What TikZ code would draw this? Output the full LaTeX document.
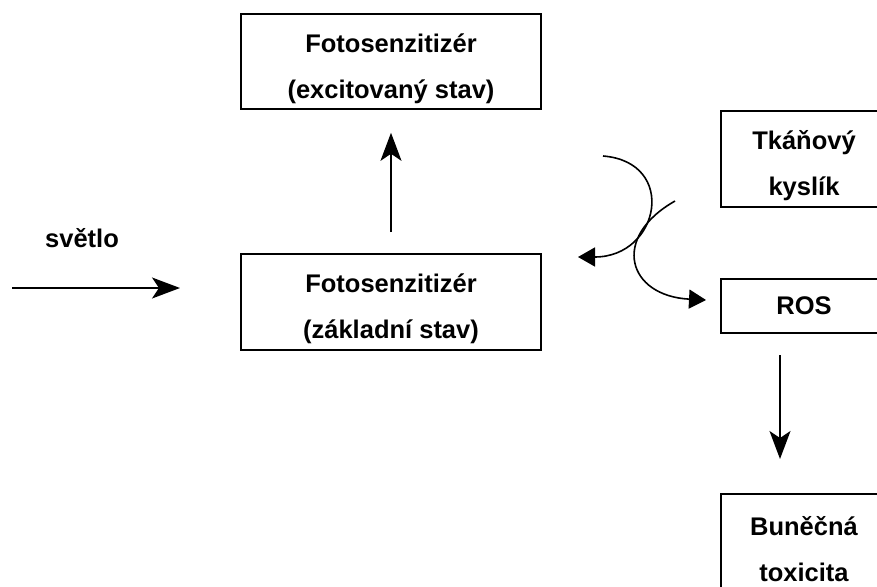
\documentclass[tikz,border=0pt]{standalone}
\usepackage{fontspec}
\setmainfont{Liberation Sans}
\usetikzlibrary{arrows.meta}
\newcommand{\dn}{\rule{0pt}{33pt}}
\begin{document}
\begin{tikzpicture}[x=1pt,y=-1pt,
  box/.style={draw,line width=1.6pt,rectangle,inner sep=0pt,align=center,
    font=\fontsize{25.5}{46}\selectfont\bfseries},
  lbl/.style={font=\fontsize{25.5}{30}\selectfont\bfseries,inner sep=0pt},
  arr/.style={line width=1.6pt,-{Stealth[length=28pt,width=21pt,inset=7pt]}},
  carr/.style={line width=1.6pt,-{Triangle[length=17pt,width=19pt]}}]
\clip (0,0) rectangle (877,586);
\fill[white] (0,0) rectangle (877,586);
% boxes
\node[box,minimum width=300pt,minimum height=95pt] (exc) at (391,61.5) {\dn Fotosenzitizér\\(excitovaný stav)};
\node[box,minimum width=300pt,minimum height=96pt] (gnd) at (391,302) {\dn Fotosenzitizér\\(základní stav)};
\node[box,minimum width=166pt,minimum height=96pt] (oxy) at (804,159) {\dn Tkáňový\\kyslík};
\node[box,minimum width=166pt,minimum height=54pt] (ros) at (804,306) {ROS};
\node[box,minimum width=166pt,minimum height=96pt] (tox) at (804,542) {\dn Buněčná\\toxicita};
\node[lbl,anchor=base] (light) at (82,247) {světlo};
% straight arrows
\coordinate (ls) at (12,288);
\coordinate (le) at (180,288);
\draw[arr] (ls) -- (le);
\draw[arr,shorten <=21pt,shorten >=23pt] (gnd.north) -- (exc.south);
\coordinate (ds) at (780,355);
\coordinate (de) at (780,459);
\draw[arr] (ds) -- (de);
% curved arrows
\coordinate (c1s) at (603,156);
\coordinate (c1e) at (578,257);
\draw[carr] (c1s) .. controls (678,162) and (660,257) .. (c1e);
\coordinate (c2s) at (675,201);
\coordinate (c2e) at (706,300);
\draw[carr] (c2s) .. controls (610,238) and (628,296) .. (c2e);
\end{tikzpicture}
\end{document}
